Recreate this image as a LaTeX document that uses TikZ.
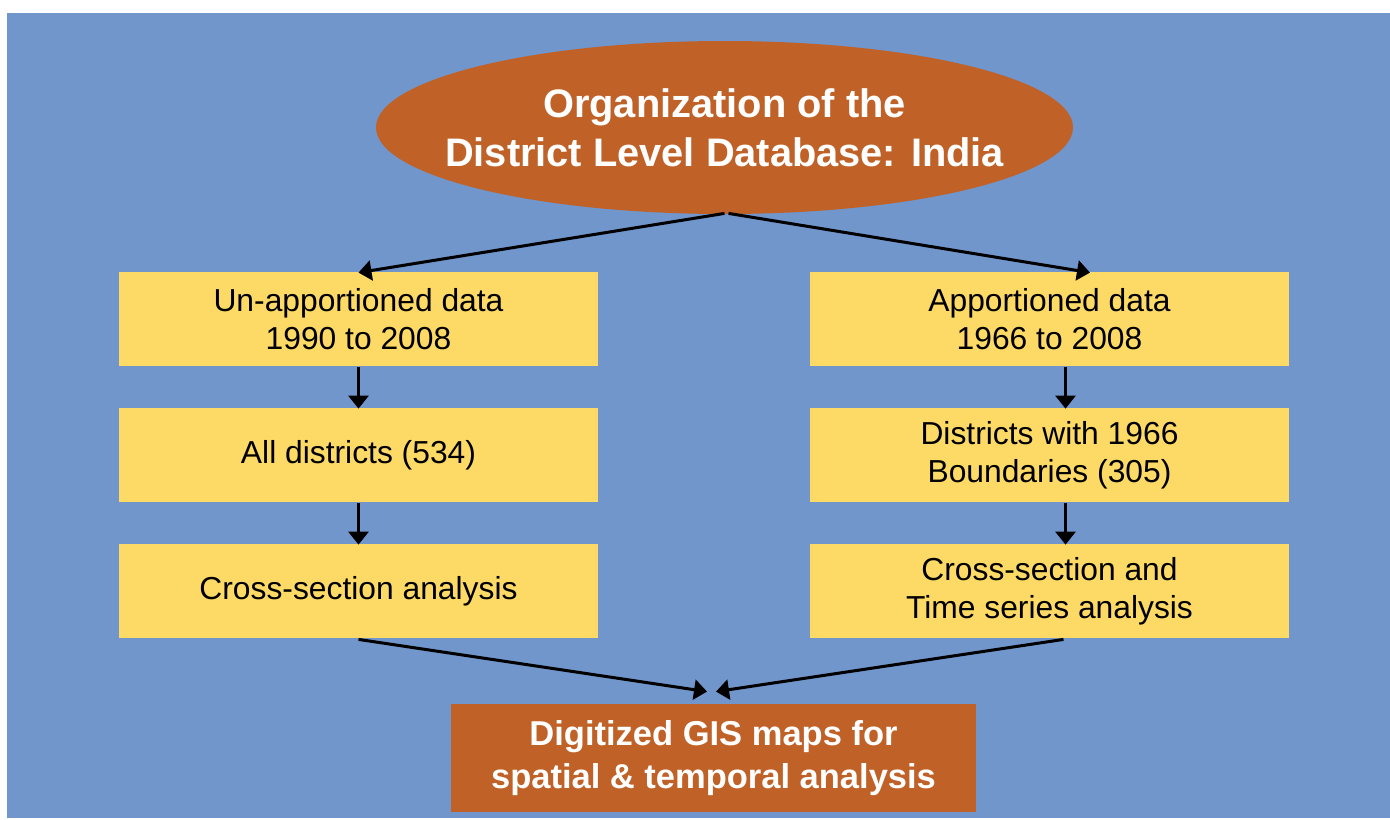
\documentclass[tikz,border=0pt]{standalone}
\usepackage{fontspec}
\setmainfont{Liberation Sans}
\usetikzlibrary{arrows.meta,shapes.geometric}
\definecolor{bgblue}{RGB}{113,150,204}
\definecolor{rust}{RGB}{192,98,40}
\definecolor{boxyellow}{RGB}{253,217,102}
\begin{document}
\begin{tikzpicture}[x=0.5pt,y=-0.5pt,>={Triangle[length=6.5pt,width=10pt]},
    databox/.style={fill=boxyellow,minimum width=239.5pt,minimum height=47pt,inner sep=0pt,
      align=center,font=\fontsize{15.9}{19.2}\selectfont},
    link/.style={->,line width=1.5pt}]
  \useasboundingbox (0,0) rectangle (1390,819);
  \fill[bgblue] (7,13) rectangle (1390,818);
  \node[ellipse,fill=rust,minimum width=348.5pt,minimum height=86.5pt,inner ysep=0pt,
    inner xsep=-16.5pt,text=white,align=center,font=\bfseries\fontsize{19.9}{24.3}\selectfont]
    (title) at (724.5,127.5) {Organization of the\\District Level Database: India};
  % left column
  \node[databox] (unapp) at (358.5,319) {Un-apportioned data\\1990 to 2008};
  \node[databox] (alldist) at (358.5,455) {All districts (534)};
  \node[databox] (cross) at (358.5,591) {Cross-section analysis};
  % right column
  \node[databox] (app) at (1049.5,319) {Apportioned data\\1966 to 2008};
  \node[databox] (dist66) at (1049.5,455) {Districts with 1966\\Boundaries (305)};
  \node[databox] (crosstime) at (1049.5,591) {Cross-section and\\Time series analysis};
  \node[fill=rust,minimum width=262.5pt,minimum height=54pt,inner sep=0pt,text=white,
    align=center,font=\bfseries\fontsize{17.25}{21.3}\selectfont]
    (gis) at (713.5,758) {Digitized GIS maps for\\spatial \& temporal analysis};
  \draw[link] ([yshift=0.5pt]title.south) -- ([yshift=-0.5pt]unapp.north);
  \draw[link] ([xshift=2pt,yshift=0.5pt]title.south) -- ([xshift=20.25pt,yshift=-0.5pt]app.north);
  \draw[link] ([yshift=-0.5pt]unapp.south) -- ([yshift=-0.5pt]alldist.north);
  \draw[link] ([yshift=-0.5pt]alldist.south) -- ([yshift=-0.5pt]cross.north);
  \draw[link] ([xshift=8pt,yshift=-0.5pt]app.south) -- ([xshift=8pt,yshift=-0.5pt]dist66.north);
  \draw[link] ([xshift=8pt,yshift=-0.5pt]dist66.south) -- ([xshift=8pt,yshift=-0.5pt]crosstime.north);
  \draw[link] ([yshift=-0.5pt]cross.south) -- ([xshift=-3.25pt,yshift=6pt]gis.north);
  \draw[link] ([xshift=7pt,yshift=-0.5pt]crosstime.south) -- ([xshift=1.25pt,yshift=6pt]gis.north);
\end{tikzpicture}
\end{document}
